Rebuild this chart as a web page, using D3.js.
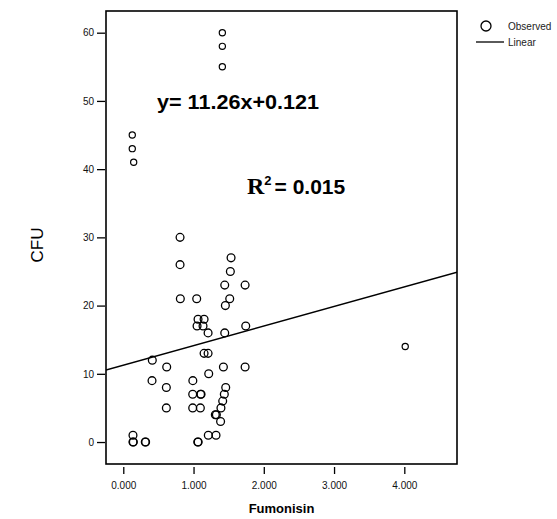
<!DOCTYPE html>
<html>
<head>
<meta charset="utf-8">
<script src="https://cdn.jsdelivr.net/npm/d3@7"></script>
<style>
  body { margin: 0; background: #fff; }
  svg { display: block; }
  .tick text { font-family: "Liberation Sans", Arial, sans-serif; font-size: 10px; fill: #111; }
  .tick line { stroke: #000; stroke-width: 1.3; }
</style>
</head>
<body>
<div id="vis"></div>
<script>
// Observed points (CFU vs Fumonisin)
var fumonisin = [0.138, 0.143, 0.138, 0.313, 0.318, 1.060, 1.066, 0.413, 0.409, 0.618,
  0.613, 0.613, 0.808, 0.808, 0.812, 1.045, 1.064, 1.150, 1.050, 1.135,
  1.207, 1.150, 1.207, 1.216, 0.990, 0.988, 1.100, 1.107, 0.988, 1.097,
  1.534, 1.524, 1.444, 1.734, 1.515, 1.453, 1.743, 1.444, 1.425, 1.734,
  1.458, 1.438, 1.415, 1.390, 1.310, 1.325, 1.385, 1.210, 1.320];
var cfu = [0, 0, 1, 0, 0, 0, 0, 12, 9, 11,
  8, 5, 30, 26, 21, 21, 18, 18, 17, 17,
  16, 13, 13, 10, 9, 7, 7, 7, 5, 5,
  27, 25, 23, 23, 21, 20, 17, 16, 11, 11,
  8, 7, 6, 5, 4, 4, 3, 1, 1];

// the outlying points (drawn smaller in the original)
var outFumonisin = [0.128, 0.128, 0.148, 1.410, 1.410, 1.410, 4.013];
var outCfu = [45, 43, 41, 60, 58, 55, 14];

var xTicks = [0, 1, 2, 3, 4];
var yTicks = [0, 10, 20, 30, 40, 50, 60];

// fitted line
var intercept = 11.26;
var slope = 2.87;

var equationText = 'y= 11.26x+0.121';
var rSquaredText = '= 0.015';
var legendLabels = ['Observed', 'Linear'];

var width = 557;
var height = 519;
var frame = { left: 106, top: 11, right: 457, bottom: 464 };

var svg = d3.select('#vis')
  .append('svg')
  .attr('width', width)
  .attr('height', height);

var x = d3.scaleLinear()
  .domain([-0.246, 4.75])
  .range([frame.left, frame.right]);

var y = d3.scaleLinear()
  .domain([-3.22, 63.18])
  .range([frame.bottom, frame.top]);

// axes
var yAxis = d3.axisLeft(y)
  .tickValues(yTicks)
  .tickSize(8)
  .tickPadding(3)
  .tickFormat(d3.format('d'));

svg.append('g')
  .attr('transform', 'translate(' + (frame.left - 1) + ',0)')
  .call(yAxis)
  .call(function (g) { g.select('.domain').remove(); });

var xAxis = d3.axisBottom(x)
  .tickValues(xTicks)
  .tickSize(7)
  .tickPadding(8)
  .tickFormat(d3.format('.3f'));

svg.append('g')
  .attr('transform', 'translate(0,' + (frame.bottom + 3) + ')')
  .call(xAxis)
  .call(function (g) { g.select('.domain').remove(); });

// clip for the fit line
svg.append('clipPath')
  .attr('id', 'plot-clip')
  .append('rect')
  .attr('x', frame.left)
  .attr('y', frame.top)
  .attr('width', frame.right - frame.left)
  .attr('height', frame.bottom - frame.top);

var xd = x.domain();
svg.append('line')
  .attr('clip-path', 'url(#plot-clip)')
  .attr('x1', x(xd[0]))
  .attr('y1', y(intercept + slope * xd[0]))
  .attr('x2', x(xd[1]))
  .attr('y2', y(intercept + slope * xd[1]))
  .attr('stroke', '#000')
  .attr('stroke-width', 1.5);

// points
var mainPoints = fumonisin.map(function (v, i) { return { x: v, y: cfu[i] }; });
var outPoints = outFumonisin.map(function (v, i) { return { x: v, y: outCfu[i] }; });

svg.append('g')
  .selectAll('circle')
  .data(mainPoints)
  .enter().append('circle')
  .attr('cx', function (d) { return x(d.x); })
  .attr('cy', function (d) { return y(d.y); })
  .attr('r', 3.9)
  .attr('fill', 'none')
  .attr('stroke', '#000')
  .attr('stroke-width', 1.3);

svg.append('g')
  .selectAll('circle')
  .data(outPoints)
  .enter().append('circle')
  .attr('cx', function (d) { return x(d.x); })
  .attr('cy', function (d) { return y(d.y); })
  .attr('r', 3.1)
  .attr('fill', 'none')
  .attr('stroke', '#000')
  .attr('stroke-width', 1.2);

// frame
svg.append('rect')
  .attr('x', frame.left)
  .attr('y', frame.top)
  .attr('width', frame.right - frame.left)
  .attr('height', frame.bottom - frame.top)
  .attr('fill', 'none')
  .attr('stroke', '#000')
  .attr('stroke-width', 1.6);

// axis titles
svg.append('text')
  .attr('x', (frame.left + frame.right) / 2)
  .attr('y', 513)
  .attr('text-anchor', 'middle')
  .style('font-family', '"Liberation Sans", Arial, sans-serif')
  .style('font-size', '13px')
  .style('font-weight', 'bold')
  .text('Fumonisin');

svg.append('text')
  .attr('transform', 'translate(43,245) rotate(-90)')
  .attr('text-anchor', 'middle')
  .style('font-family', '"Liberation Sans", Arial, sans-serif')
  .style('font-size', '17px')
  .text('CFU');

// annotations
svg.append('text')
  .attr('x', 157)
  .attr('y', 109)
  .attr('textLength', 162)
  .attr('lengthAdjust', 'spacingAndGlyphs')
  .style('font-family', '"Liberation Sans", Arial, sans-serif')
  .style('font-size', '21px')
  .style('font-weight', 'bold')
  .text(equationText);

var r2 = svg.append('text')
  .attr('x', 247)
  .attr('y', 194)
  .style('font-weight', 'bold');

r2.append('tspan')
  .style('font-family', '"Liberation Serif", "Times New Roman", serif')
  .style('font-size', '24px')
  .text('R');

r2.append('tspan')
  .attr('dy', -9)
  .style('font-family', '"Liberation Sans", Arial, sans-serif')
  .style('font-size', '13px')
  .text('2');

r2.append('tspan')
  .attr('dy', 9)
  .attr('dx', 3)
  .style('font-family', '"Liberation Sans", Arial, sans-serif')
  .style('font-size', '21px')
  .text(rSquaredText);

// legend
var legend = svg.append('g')
  .style('font-family', '"Liberation Sans", Arial, sans-serif')
  .style('font-size', '10px');

legend.append('circle')
  .attr('cx', 486)
  .attr('cy', 26)
  .attr('r', 5)
  .attr('fill', 'none')
  .attr('stroke', '#000')
  .attr('stroke-width', 1.3);

legend.append('line')
  .attr('x1', 476)
  .attr('x2', 504)
  .attr('y1', 42)
  .attr('y2', 42)
  .attr('stroke', '#000')
  .attr('stroke-width', 1.3);

legend.selectAll('.legend-label')
  .data(legendLabels)
  .enter().append('text')
  .attr('class', 'legend-label')
  .attr('x', 508)
  .attr('y', function (d, i) { return 30 + i * 16; })
  .attr('fill', '#222')
  .text(function (d) { return d; });
</script>
</body>
</html>
